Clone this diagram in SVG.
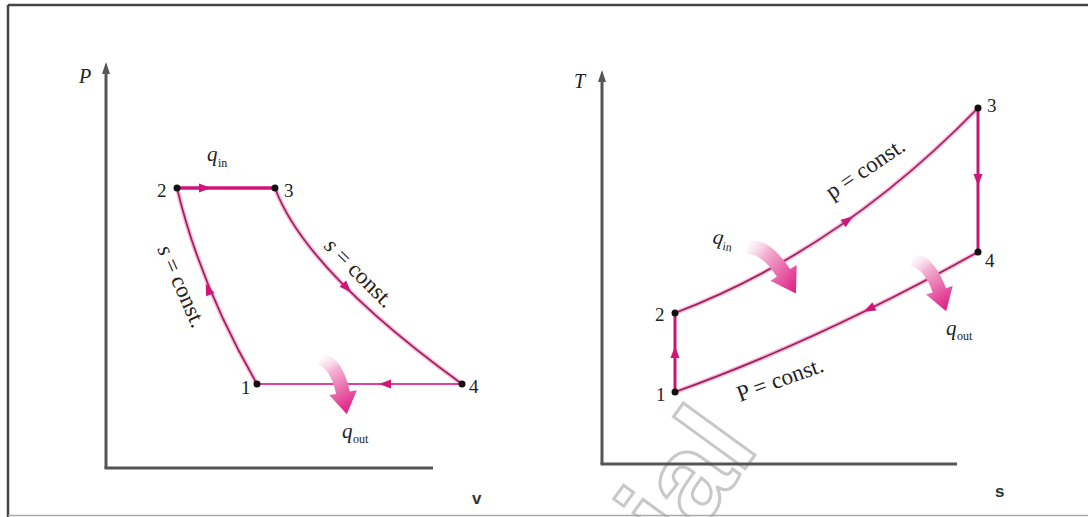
<svg xmlns="http://www.w3.org/2000/svg" width="1088" height="517" viewBox="0 0 1088 517">
<style>
.ax{stroke:#555;stroke-width:3;fill:none}
.halo{stroke:#f49ac8;stroke-width:4.5;fill:none;stroke-opacity:0.7}
.core{stroke:#a01e5c;stroke-width:1.7;fill:none}
.heat{stroke:#d3107c;stroke-width:3.5;fill:none}
.cool{stroke:#e2409a;stroke-width:2.2;fill:none}
.vert{stroke:#c4176f;stroke-width:3;fill:none}
.ah{fill:#d01478}
.dot{fill:#111}
.lbl{font-family:"Liberation Serif","Times New Roman",serif;fill:#222}
.num{font-family:"Liberation Serif","Times New Roman",serif;font-size:19px;fill:#222}
.it{font-style:italic}
.sub{font-family:"Liberation Serif","Times New Roman",serif;font-size:12px;fill:#222}
.axl{font-family:"Liberation Sans",Arial,sans-serif;font-size:17px;font-weight:bold;fill:#333}
.wm{font-family:"Liberation Sans",Arial,sans-serif;font-size:122px;font-weight:bold;fill:#fff;stroke:#c8c8c8;stroke-width:3}
</style>
<defs>
<linearGradient id="hg" x1="0" y1="0" x2="0.2" y2="1">
<stop offset="0" stop-color="#ffffff" stop-opacity="0.3"/>
<stop offset="0.35" stop-color="#f3b2d2"/>
<stop offset="1" stop-color="#e0288a"/>
</linearGradient>
<path id="fat" d="M-4,4 Q8,10 9,36 L2,36 L16,58 L30,36 L23,36 Q21,0 4,-5 Z"/>
<polygon id="tri" points="-6,-4.5 6,0 -6,4.5"/>
</defs>
<rect x="0" y="0" width="1088" height="517" fill="#fff"/>
<!-- watermark -->
<text class="wm" x="760" y="448" text-anchor="end" transform="rotate(-54 760 448)">ial</text>
<!-- frame -->
<g id="frame">
<line x1="8" y1="5" x2="1088" y2="5" stroke="#444" stroke-width="2.5"/>
<line x1="8" y1="5" x2="8" y2="517" stroke="#444" stroke-width="2.5"/>
<line x1="8" y1="515.5" x2="1088" y2="515.5" stroke="#aaa" stroke-width="1.5"/>
</g>
<!-- axes -->
<g id="axes">
<line class="ax" x1="106" y1="70" x2="106" y2="468"/>
<line class="ax" x1="104.5" y1="468" x2="433" y2="468"/>
<polygon points="106,62 102,74 110,74" fill="#555"/>
<line class="ax" x1="602" y1="78" x2="602" y2="464"/>
<line class="ax" x1="600.5" y1="464" x2="957" y2="464"/>
<polygon points="602,70 598,82 606,82" fill="#555"/>
<text class="lbl it" x="79" y="83" font-size="20">P</text>
<text class="lbl it" x="574" y="88" font-size="20">T</text>
<text class="axl" x="472" y="504">v</text>
<text class="axl" x="995" y="497">s</text>
</g>
<!-- connectors -->
<g id="connectors">
<!-- P-v -->
<path class="heat" d="M177,188 H275"/>
<path class="halo" d="M275,188 Q305,270 462,384"/>
<path class="core" d="M275,188 Q305,270 462,384"/>
<path class="cool" d="M462,384 H257"/>
<path class="halo" d="M257,384 Q200,285 177,188"/>
<path class="core" d="M257,384 Q200,285 177,188"/>
<use href="#tri" class="ah" transform="translate(205,188)"/>
<use href="#tri" class="ah" transform="translate(347,288) rotate(47)"/>
<use href="#tri" class="ah" transform="translate(385,384) rotate(180)"/>
<use href="#tri" class="ah" transform="translate(208,289) rotate(-112)"/>
<!-- T-s -->
<path class="vert" d="M675,392 V313"/>
<path class="halo" d="M675,313 Q840,250 978,108"/>
<path class="core" d="M675,313 Q840,250 978,108"/>
<path class="vert" d="M978,108 V252"/>
<path class="halo" d="M978,252 Q820,340 675,392"/>
<path class="core" d="M978,252 Q820,340 675,392"/>
<use href="#tri" class="ah" transform="translate(675,352) rotate(-90)"/>
<use href="#tri" class="ah" transform="translate(848,220) rotate(-35)"/>
<use href="#tri" class="ah" transform="translate(978,180) rotate(90)"/>
<use href="#tri" class="ah" transform="translate(869,309) rotate(154)"/>
</g>
<!-- heat arrows -->
<g id="qout-pv"><use href="#fat" fill="url(#hg)" transform="translate(321,360) rotate(-10)"/></g>
<g id="qin-ts"><use href="#fat" fill="url(#hg)" transform="translate(748,248) rotate(-31) scale(1.1)"/></g>
<g id="qout-ts"><use href="#fat" fill="url(#hg)" transform="translate(913,261) rotate(-18)"/></g>
<!-- state points -->
<g id="state1-pv"><circle class="dot" cx="257" cy="384" r="3.5"/><text class="num" x="241" y="394">1</text></g>
<g id="state2-pv"><circle class="dot" cx="177" cy="188" r="3.5"/><text class="num" x="157" y="197">2</text></g>
<g id="state3-pv"><circle class="dot" cx="275" cy="188" r="3.5"/><text class="num" x="284" y="197">3</text></g>
<g id="state4-pv"><circle class="dot" cx="462" cy="384" r="3.5"/><text class="num" x="469" y="393">4</text></g>
<g id="state1-ts"><circle class="dot" cx="675" cy="392" r="3.5"/><text class="num" x="656" y="401">1</text></g>
<g id="state2-ts"><circle class="dot" cx="675" cy="313" r="3.5"/><text class="num" x="655" y="321">2</text></g>
<g id="state3-ts"><circle class="dot" cx="978" cy="108" r="3.5"/><text class="num" x="987" y="112">3</text></g>
<g id="state4-ts"><circle class="dot" cx="978" cy="252" r="3.5"/><text class="num" x="985" y="267">4</text></g>
<!-- labels -->
<g id="labels">
<text class="lbl it" x="207" y="161" font-size="21">q</text><text class="sub" x="218" y="167">in</text>
<text class="lbl it" x="342" y="438" font-size="21">q</text><text class="sub" x="353" y="443">out</text>
<text class="lbl" x="157" y="249" font-size="23" transform="rotate(66 157 249)"><tspan font-style="italic">s</tspan> = const.</text>
<text class="lbl" x="323" y="247" font-size="23" transform="rotate(45 323 247)"><tspan font-style="italic">s</tspan> = const.</text>
<g transform="rotate(10 712 243)"><text class="lbl it" x="712" y="243" font-size="21">q</text><text class="sub" x="723" y="248">in</text></g>
<text class="lbl it" x="946" y="335" font-size="21">q</text><text class="sub" x="957" y="340">out</text>
<text class="lbl" x="832" y="200" font-size="23" transform="rotate(-34 832 200)">p = const.</text>
<text class="lbl" x="740" y="402" font-size="23" transform="rotate(-20 740 402)">P = const.</text>
</g>
</svg>
